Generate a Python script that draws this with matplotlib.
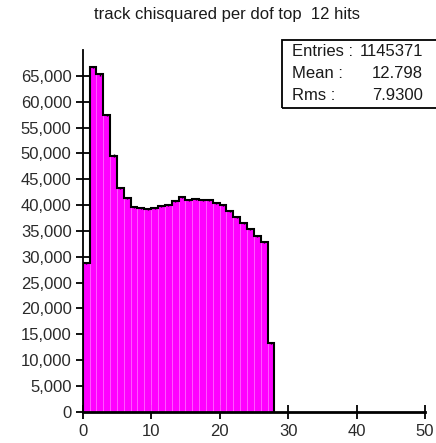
"""
track chisquared per dof (top, 12 hits) histogram, JAS-style
"""

import numpy as np
import matplotlib
matplotlib.use('Agg')
import matplotlib.pyplot as plt
from matplotlib.patches import Rectangle
from matplotlib.ticker import FuncFormatter

plt.rcParams['font.family'] = ['Liberation Sans', 'DejaVu Sans']

TITLE = 'track chisquared per dof top  12 hits'

# bin low edges (width 1) and counts
BIN_LOW = [0, 1, 2, 3, 4, 5, 6, 7, 8, 9, 10, 11, 12, 13,
           14, 15, 16, 17, 18, 19, 20, 21, 22, 23, 24, 25, 26, 27]
COUNTS = [28800, 66680, 65320, 57380, 49570, 43300, 41300, 39630, 39350, 39300,
          39350, 39850, 39950, 40860, 41500, 41000, 41200, 41000, 40900, 40350,
          39950, 38800, 37760, 36600, 35430, 34020, 32860, 13300]

X_TICKS = [0, 10, 20, 30, 40, 50]
Y_TICKS = [0, 5000, 10000, 15000, 20000, 25000, 30000, 35000,
           40000, 45000, 50000, 55000, 60000, 65000]

STATS_LABELS = ['Entries :', 'Mean :', 'Rms :']
STATS_VALUES = ['1145371', '12.798', '7.9300']

W, H = 436, 443

fig = plt.figure(figsize=(W / 100, H / 100), dpi=100)
ax = fig.add_axes([82.7 / W, 1 - 411.7 / H, (425 - 82.7) / W, (411.7 - 50) / H])

lows = np.array(BIN_LOW, dtype=float)
counts = np.array(COUNTS, dtype=float)
edges = np.append(lows, lows[-1] + 1)

ax.bar(lows, counts, width=1, align='edge', color='#ff00ff',
       edgecolor='#ff66ff', linewidth=0.5, zorder=2)
ax.stairs(counts, edges, color='black', linewidth=1.5, zorder=3)
ax.errorbar(lows + 0.5, counts, yerr=np.sqrt(counts), fmt='none',
            ecolor='black', elinewidth=1.0, zorder=4)

ax.set_xlim(0, 50)
ax.set_ylim(0, 70000)
ax.set_xticks(X_TICKS)
ax.set_yticks(Y_TICKS)
ax.yaxis.set_major_formatter(FuncFormatter(lambda v, p: f'{int(v):,}'))

for s in ['top', 'right']:
    ax.spines[s].set_visible(False)
ax.spines['left'].set_linewidth(1.3)
ax.spines['bottom'].set_linewidth(2.0)
ax.tick_params(axis='both', direction='inout', length=10, width=1.3,
               labelsize=12, labelcolor='#2a2a2a')
ax.tick_params(axis='x', pad=4)
ax.tick_params(axis='y', pad=3)

fig.text(226.7 / W, 1 - 15 / H, TITLE, ha='center', va='center',
         fontsize=12, color='#1a1a1a')

# stats box
fig.patches.append(Rectangle((282 / W, 1 - 108 / H), 0.5, 68 / H,
                             transform=fig.transFigure, fill=False,
                             edgecolor='black', linewidth=1.3))
for i, (lab, val) in enumerate(zip(STATS_LABELS, STATS_VALUES)):
    y = 1 - (52 + 22 * i) / H
    fig.text(292 / W, y, lab, ha='left', va='center', fontsize=12, color='#1a1a1a')
    fig.text(423 / W, y, val, ha='right', va='center', fontsize=12, color='#1a1a1a')

fig.savefig('out.png', dpi=100)
